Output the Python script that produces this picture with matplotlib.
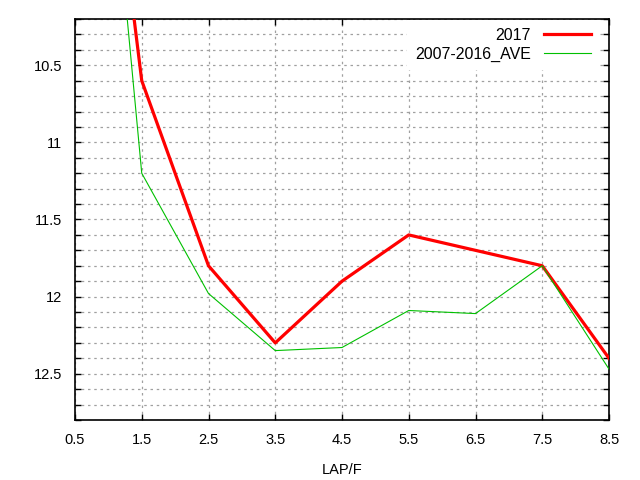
import matplotlib.pyplot as plt
from matplotlib.ticker import MultipleLocator

plt.rcParams['font.family'] = ['Liberation Sans', 'DejaVu Sans']

# data
lap = [0.5, 1.5, 2.5, 3.5, 4.5, 5.5, 6.5, 7.5, 8.5]
y2017 = [7.1, 10.6, 11.8, 12.3, 11.9, 11.6, 11.7, 11.8, 12.4]
ave = [6.6, 11.2, 11.98, 12.35, 12.33, 12.09, 12.11, 11.8, 12.47]
yticks = [10.5, 11, 11.5, 12, 12.5]
ytick_labels = ['10.5', '11', '11.5', '12', '12.5']

fig = plt.figure(figsize=(6.4, 4.8), dpi=100)
ax = fig.add_axes([75/640, 60/480, 534/640, 401/480])

ax.plot(lap, y2017, color='#ff0000', lw=2.3, label='2017', zorder=3)
ax.plot(lap, ave, color='#00c000', lw=0.8, label='2007-2016_AVE', zorder=3)

ax.set_xlim(0.5, 8.5)
ax.set_ylim(12.8, 10.2)
ax.set_xticks(lap)
ax.set_xticklabels([str(v) for v in lap])
ax.yaxis.set_minor_locator(MultipleLocator(0.1))
ax.set_yticks(yticks)
ax.set_yticklabels(ytick_labels)

ax.grid(True, which='both', axis='y', color='#a0a0a0', ls=(0, (2, 3)), lw=0.9)
ax.grid(True, which='major', axis='x', color='#a0a0a0', ls=(0, (2, 3)), lw=0.9)

ax.tick_params(which='both', direction='in', top=True, right=True, labelsize=10.5,
               width=1, colors='black')
ax.tick_params(which='major', length=4.5, pad=9)
ax.tick_params(which='minor', length=4.5)
for s in ax.spines.values():
    s.set_linewidth(1.2)

ax.set_xlabel('LAP/F', fontsize=10.5, labelpad=12)

# gnuplot-style key: white box with no border, text right-aligned before the sample
leg = ax.legend(loc='upper right', bbox_to_anchor=(1 - 10/534, 1 - 1/401),
                frameon=True, fancybox=False, facecolor='white', edgecolor='none',
                framealpha=1, markerfirst=False, fontsize=11.5, handlelength=2.95,
                handletextpad=0.8, borderaxespad=0, borderpad=0.5,
                labelspacing=0.22)
for t in leg.get_texts():
    t.set_ha('right')

fig.savefig('out.png', dpi=100)
